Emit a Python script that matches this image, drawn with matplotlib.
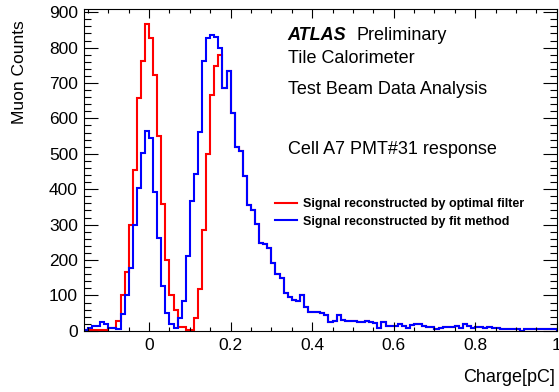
import numpy as np
import matplotlib.pyplot as plt
from matplotlib.ticker import MultipleLocator
from matplotlib.lines import Line2D

plt.rcParams['font.family'] = ['Liberation Sans', 'DejaVu Sans']

# 116 bins of 0.01 pC between -0.16 and 1.0
charge_edges = np.linspace(-0.16, 1.0, 117)

# signal reconstructed by optimal filter (red)
of_counts = [
    2, 2, 2, 2, 2, 2, 8, 8, 29, 100,            # -0.16 .. -0.07
    167, 298, 454, 659, 762, 866, 826, 723, 550, 357,
    200, 102, 58, 12, 12, 2, 2, 36, 118, 286,
    500, 666, 749, 778, 687, 734, 615, 520, 507, 436,
    355, 340, 302, 249, 245, 233, 193, 161, 150, 108,
    97, 88, 83, 100, 67, 53, 53, 53, 50, 45,
    26, 28, 45, 31, 29, 29, 27, 25, 25, 29,
    25, 22, 9, 24, 14, 14, 14, 20, 14, 9,
    17, 20, 20, 14, 10, 10, 5, 8, 10, 12,
    10, 14, 8, 19, 14, 7, 10, 10, 9, 12,
    9, 9, 5, 5, 5, 6, 5, 0, 5, 5,
    5, 5, 5, 5, 5, 5,                            # 0.94 .. 0.99
]

# signal reconstructed by fit method (blue)
fit_counts = [
    3, 8, 15, 15, 24, 19, 9, 9, 5, 47,          # -0.16 .. -0.07
    100, 177, 298, 404, 501, 564, 545, 393, 262, 128,
    50, 20, 8, 36, 85, 210, 368, 444, 562, 762,
    828, 835, 831, 800, 687, 734, 615, 520, 507, 436,
    355, 340, 302, 249, 245, 233, 193, 161, 150, 108,
    97, 88, 83, 100, 67, 53, 53, 53, 50, 45,
    26, 28, 45, 31, 29, 29, 27, 25, 25, 29,
    25, 22, 9, 24, 14, 14, 14, 20, 14, 9,
    17, 20, 20, 14, 10, 10, 5, 8, 10, 12,
    10, 14, 8, 19, 14, 7, 10, 10, 9, 12,
    9, 9, 5, 5, 5, 6, 5, 0, 5, 5,
    5, 5, 5, 5, 5, 5,
]

fig = plt.figure(figsize=(5.59, 3.92), dpi=100)
ax = fig.add_axes([0.150, 0.156, 0.846, 0.821])

ax.stairs(of_counts, charge_edges, color='#ff0000', lw=1.5)
ax.stairs(fit_counts, charge_edges, color='#0000ff', lw=1.5)

ax.set_xlim(-0.16, 1.0)
ax.set_ylim(0, 909)

ax.xaxis.set_major_locator(MultipleLocator(0.2))
ax.xaxis.set_minor_locator(MultipleLocator(0.05))
ax.yaxis.set_major_locator(MultipleLocator(100))
ax.yaxis.set_minor_locator(MultipleLocator(20))
ax.xaxis.set_major_formatter(lambda v, p: '%g' % round(v, 2))

ax.tick_params(which='both', direction='in', top=True, right=True,
               labelsize=12.5, color='black', width=0.8)
ax.tick_params(axis='x', which='major', length=6.5, pad=5)
ax.tick_params(axis='x', which='minor', length=3.2)
ax.tick_params(axis='y', which='major', length=10, pad=4.3)
ax.tick_params(axis='y', which='minor', length=5)
for s in ax.spines.values():
    s.set_linewidth(0.8)

ax.set_ylabel('Muon Counts', fontsize=12.5, loc='top')
ax.yaxis.set_label_coords(-0.12, 0.966)
ax.set_xlabel('Charge[pC]', fontsize=13, loc='right')
ax.xaxis.set_label_coords(0.996, -0.118)

tx = 0.431
ax.text(tx, 0.904, 'ATLAS', transform=ax.transAxes, fontsize=13,
        fontweight='bold', fontstyle='italic')
ax.text(0.577, 0.904, 'Preliminary', transform=ax.transAxes, fontsize=13)
ax.text(tx, 0.832, 'Tile Calorimeter', transform=ax.transAxes, fontsize=13)
ax.text(tx, 0.736, 'Test Beam Data Analysis', transform=ax.transAxes, fontsize=13)
ax.text(tx, 0.550, 'Cell A7 PMT#31 response', transform=ax.transAxes, fontsize=13)

handles = [Line2D([], [], color='#ff0000', lw=1.5),
           Line2D([], [], color='#0000ff', lw=1.5)]
labels = ['Signal reconstructed by optimal filter',
          'Signal reconstructed by fit method']
ax.legend(handles, labels, loc='center left', bbox_to_anchor=(0.404, 0.366),
          frameon=False, borderpad=0, borderaxespad=0, handlelength=1.75,
          handletextpad=0.5, labelspacing=0.45,
          prop={'size': 9, 'weight': 'bold'})

fig.savefig('out.png', dpi=100)
